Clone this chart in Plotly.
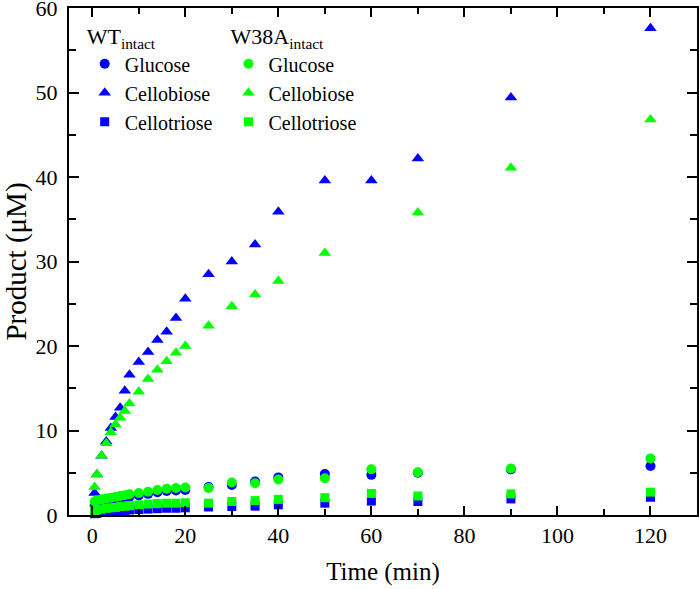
import plotly.graph_objects as go

# Time points (min)
time = [0.5, 1, 2, 3, 4, 5, 6, 7, 8, 10, 12, 14, 16, 18, 20, 25, 30, 35, 40, 50, 60, 70, 90, 120]

# WT intact
wt_glucose = [1.1, 1.3, 1.5, 1.6, 1.75, 1.85, 1.95, 2.05, 2.15, 2.3, 2.5, 2.7, 2.85, 2.9, 2.95,
              3.3, 3.55, 3.95, 4.45, 4.85, 4.75, 5.0, 5.4, 5.8]
wt_cellobiose = [2.6, 4.8, 7.0, 8.7, 10.3, 11.6, 12.7, 14.7, 16.6, 18.1, 19.3, 20.7, 21.7, 23.3, 25.6,
                 28.5, 30.0, 32.0, 35.9, 39.6, 39.6, 42.2, 49.4, 57.6]
wt_cellotriose = [0.15, 0.2, 0.3, 0.35, 0.4, 0.45, 0.5, 0.55, 0.6, 0.65, 0.7, 0.75, 0.8, 0.8, 0.85,
                  0.95, 1.0, 1.05, 1.2, 1.4, 1.65, 1.6, 1.9, 2.1]

# W38A intact
time_w38a_cb = [0.5, 1, 2, 3, 4, 5, 6, 7, 8, 10, 12, 14, 16, 18, 20, 25, 30, 35, 40, 50, 70, 90, 120]
w38a_glucose = [1.6, 1.75, 1.85, 1.95, 2.05, 2.15, 2.25, 2.35, 2.45, 2.6, 2.75, 2.95, 3.1, 3.2, 3.25,
                3.2, 3.85, 3.75, 4.2, 4.35, 5.4, 5.05, 5.5, 6.7]
w38a_cellobiose = [3.3, 4.8, 7.0, 8.5, 9.8, 10.7, 11.5, 12.3, 13.2, 14.6, 16.1, 17.2, 18.2, 19.2, 20.0,
                   22.4, 24.7, 26.1, 27.7, 31.0, 35.8, 41.1, 46.8]
w38a_cellotriose = [0.5, 0.6, 0.7, 0.8, 0.85, 0.9, 1.0, 1.05, 1.1, 1.2, 1.3, 1.35, 1.4, 1.4, 1.45,
                    1.4, 1.6, 1.7, 1.85, 2.05, 2.55, 2.25, 2.5, 2.7]

x_ticks = [0, 20, 40, 60, 80, 100, 120]
y_ticks = [0, 10, 20, 30, 40, 50, 60]

BLUE = "#0000FF"
GREEN = "#00FF00"
FONT = "Liberation Serif"

fig = go.Figure()

def add(x, y, name, color, symbol, size, legend):
    fig.add_trace(go.Scatter(
        x=x, y=y, mode="markers", name=name, legend=legend, cliponaxis=False,
        marker=dict(color=color, symbol=symbol, size=size, line=dict(width=0)),
    ))

add(time, wt_glucose, "Glucose", BLUE, "circle", 10, "legend")
add(time, wt_cellobiose, "Cellobiose", BLUE, "triangle-up", 11, "legend")
add(time, wt_cellotriose, "Cellotriose", BLUE, "square", 9, "legend")
add(time, w38a_glucose, "Glucose", GREEN, "circle", 10, "legend2")
add(time_w38a_cb, w38a_cellobiose, "Cellobiose", GREEN, "triangle-up", 11, "legend2")
add(time, w38a_cellotriose, "Cellotriose", GREEN, "square", 9, "legend2")

legend_common = dict(
    xanchor="left", yanchor="top",
    bgcolor="rgba(0,0,0,0)", borderwidth=0,
    font=dict(family=FONT, size=20, color="black"),
    tracegroupgap=0,
)

fig.update_layout(
    width=699, height=589, autosize=False,
    margin=dict(l=69, r=2, t=8, b=74),
    paper_bgcolor="white", plot_bgcolor="white",
    font=dict(family=FONT, size=22, color="black"),
    legend=dict(x=0.025, y=0.985,
                title=dict(text="WT<sub>intact</sub>", font=dict(family=FONT, size=22)),
                **legend_common),
    legend2=dict(x=0.254, y=0.985,
                 title=dict(text="W38A<sub>intact</sub>", font=dict(family=FONT, size=22)),
                 **legend_common),
    xaxis=dict(
        range=[-5, 130], tickvals=x_ticks, ticktext=[str(v) for v in x_ticks],
        ticks="inside", ticklen=9, tickwidth=2, tickcolor="black",
        minor=dict(dtick=10, tick0=0, ticks="inside", ticklen=6, tickwidth=2, tickcolor="black"),
        showline=True, linewidth=2, linecolor="black", mirror="ticks",
        showgrid=False, zeroline=False, automargin=False, ticklabeloverflow="allow",
        tickfont=dict(family=FONT, size=22),
        title=dict(text="Time (min)", font=dict(family=FONT, size=25)),
    ),
    yaxis=dict(
        range=[0, 60], tickvals=y_ticks, ticktext=[str(v) for v in y_ticks],
        ticks="inside", ticklen=10, tickwidth=2, tickcolor="black",
        minor=dict(dtick=5, tick0=0, ticks="inside", ticklen=7, tickwidth=2, tickcolor="black"),
        showline=True, linewidth=2, linecolor="black", mirror="ticks",
        showgrid=False, zeroline=False, automargin="left", ticklabeloverflow="allow",
        tickfont=dict(family=FONT, size=22),
        ticklabelstandoff=5,
        title=dict(text="Product (μM)", font=dict(family=FONT, size=29), standoff=2),
    ),
)

post = (
    "document.documentElement.style.margin='0';"
    "document.body.style.margin='0';"
    "document.body.style.padding='0';"
    "document.body.style.overflow='hidden';"
)

fig.write_html("out.html", config={"responsive": False, "displayModeBar": False},
               default_width="699px", default_height="589px", post_script=post)
